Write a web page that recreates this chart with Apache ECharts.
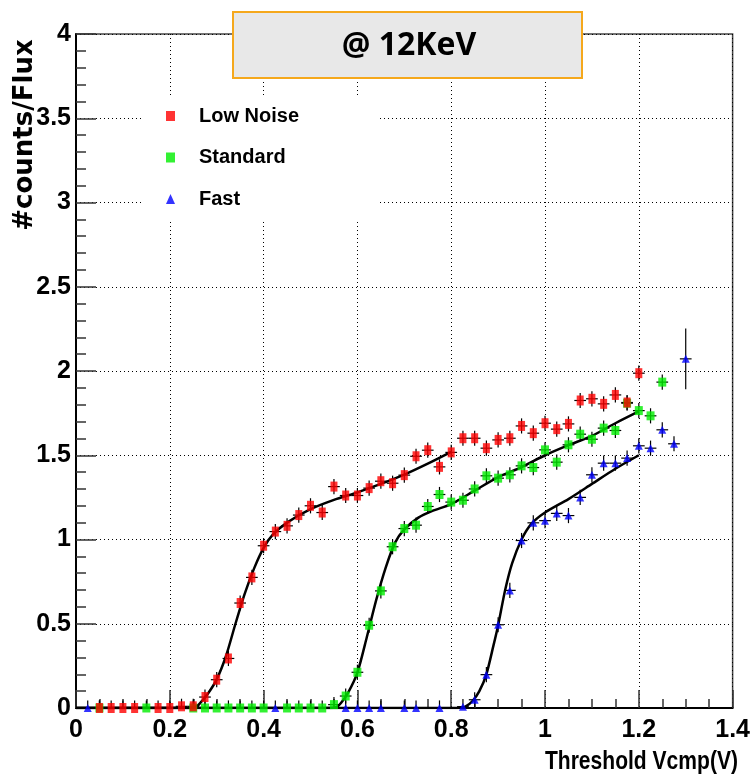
<!DOCTYPE html>
<html>
<head>
<meta charset="utf-8">
<script src="https://cdn.jsdelivr.net/npm/echarts@6/dist/echarts.min.js"></script>
<style>
  html, body { margin: 0; padding: 0; background: #fff; }
  #main { width: 753px; height: 777px; }
</style>
</head>
<body>
<div id="main"></div>
<script>
var chartDom = document.getElementById('main');
var myChart = echarts.init(chartDom);
var option;

const SANS = '"Liberation Sans", Arial, sans-serif';

// measured points: [threshold (V), counts/flux]
const lowNoise = [
  [0.05, 0], [0.075, 0], [0.1, 0], [0.125, 0], [0.175, 0], [0.2, 0], [0.225, 0.01], [0.25, 0.01],
  [0.275, 0.065], [0.3, 0.168], [0.325, 0.294], [0.35, 0.623], [0.375, 0.775], [0.4, 0.963],
  [0.425, 1.047], [0.45, 1.081], [0.475, 1.145], [0.5, 1.2], [0.525, 1.16], [0.55, 1.314],
  [0.575, 1.261], [0.6, 1.261], [0.625, 1.305], [0.65, 1.346], [0.675, 1.334], [0.7, 1.382],
  [0.725, 1.494], [0.75, 1.53], [0.775, 1.431], [0.8, 1.517], [0.825, 1.601], [0.85, 1.601],
  [0.875, 1.542], [0.9, 1.591], [0.925, 1.601], [0.95, 1.674], [0.975, 1.631], [1.0, 1.69],
  [1.025, 1.655], [1.05, 1.686], [1.075, 1.825], [1.1, 1.835], [1.125, 1.805], [1.15, 1.858],
  [1.175, 1.813], [1.2, 1.987]
];
const standard = [
  [0.05, 0], [0.15, 0], [0.25, 0], [0.275, 0], [0.3, 0], [0.325, 0], [0.35, 0], [0.375, 0],
  [0.4, 0], [0.45, 0], [0.475, 0], [0.5, 0], [0.525, 0], [0.55, 0.02], [0.575, 0.071],
  [0.6, 0.212], [0.625, 0.491], [0.65, 0.695], [0.675, 0.957], [0.7, 1.065], [0.725, 1.085],
  [0.75, 1.196], [0.775, 1.267], [0.8, 1.222], [0.825, 1.233], [0.85, 1.3], [0.875, 1.378],
  [0.9, 1.364], [0.925, 1.384], [0.95, 1.437], [0.975, 1.427], [1.0, 1.532], [1.025, 1.459],
  [1.05, 1.562], [1.075, 1.625], [1.1, 1.595], [1.125, 1.661], [1.15, 1.647], [1.175, 1.809],
  [1.2, 1.765], [1.225, 1.734], [1.25, 1.934]
];
const fast = [
  [0.025, 0], [0.425, 0], [0.575, 0], [0.6, 0], [0.625, 0], [0.65, 0], [0.7, 0], [0.725, 0],
  [0.775, 0], [0.825, 0.008], [0.85, 0.049], [0.875, 0.198], [0.9, 0.494], [0.925, 0.698],
  [0.95, 0.994], [0.975, 1.099], [1.0, 1.112], [1.025, 1.155], [1.05, 1.142], [1.075, 1.25],
  [1.1, 1.384], [1.125, 1.453], [1.15, 1.453], [1.175, 1.483], [1.2, 1.556], [1.225, 1.542],
  [1.25, 1.651], [1.275, 1.568], [1.3, 2.072]
];

// fitted curves
const lowNoiseFit = [
  [0, 0], [0.2, 0], [0.24, 0], [0.255, 0.005], [0.265, 0.03], [0.28, 0.08], [0.3, 0.17],
  [0.32, 0.31], [0.34, 0.5], [0.36, 0.68], [0.38, 0.83], [0.4, 0.95], [0.42, 1.03],
  [0.45, 1.1], [0.5, 1.18], [0.55, 1.235], [0.6, 1.28], [0.65, 1.33], [0.7, 1.385],
  [0.75, 1.45], [0.8, 1.52]
];
const standardFit = [
  [0, 0], [0.5, 0], [0.54, 0], [0.555, 0.005], [0.565, 0.03], [0.58, 0.09], [0.6, 0.21],
  [0.62, 0.42], [0.64, 0.64], [0.66, 0.83], [0.68, 0.98], [0.7, 1.06], [0.73, 1.13],
  [0.76, 1.17], [0.8, 1.21], [0.85, 1.29], [0.9, 1.37], [0.95, 1.43], [1.0, 1.5],
  [1.05, 1.56], [1.1, 1.615], [1.15, 1.69], [1.2, 1.76]
];
const fastFit = [
  [0, 0], [0.78, 0], [0.815, 0], [0.83, 0.008], [0.845, 0.04], [0.86, 0.1], [0.875, 0.2],
  [0.89, 0.37], [0.9, 0.49], [0.915, 0.7], [0.93, 0.86], [0.95, 1.0], [0.97, 1.09],
  [1.0, 1.16], [1.05, 1.24], [1.1, 1.33], [1.15, 1.42], [1.2, 1.5]
];

// error bars
const xErr = 0.0125;
const yErr = 0.045;
const fastLastErr = 0.18;

function withErr(points, lastErr) {
  return points.map(function (p, i) {
    var e = (lastErr && i === points.length - 1) ? lastErr : yErr;
    return [p[0], p[1], e];
  });
}

function renderErr(params, api) {
  var x = api.value(0), y = api.value(1), e = api.value(2);
  var l = api.coord([x - xErr, y]);
  var r = api.coord([x + xErr, y]);
  var t = api.coord([x, y + e]);
  var b = api.coord([x, y - e]);
  var st = { stroke: '#000', lineWidth: 1.2 };
  return {
    type: 'group',
    children: [
      { type: 'line', shape: { x1: l[0], y1: l[1], x2: r[0], y2: r[1] }, style: st },
      { type: 'line', shape: { x1: t[0], y1: t[1], x2: b[0], y2: b[1] }, style: st }
    ]
  };
}

function errSeries(points, lastErr) {
  return {
    type: 'custom',
    renderItem: renderErr,
    data: withErr(points, lastErr),
    encode: { x: 0, y: 1 },
    clip: true,
    silent: true,
    z: 3
  };
}

function fitSeries(points) {
  return {
    type: 'line',
    data: points,
    smooth: 0.25,
    showSymbol: false,
    lineStyle: { color: '#000', width: 2.5 },
    silent: true,
    z: 2
  };
}

const tickFont = { fontFamily: SANS, fontWeight: 'bold', fontSize: 25, color: '#000' };
const gridLine = { show: true, lineStyle: { color: '#000', width: 1, type: [1, 3] } };

option = {
  animation: false,
  backgroundColor: '#fff',
  grid: {
    left: 76, right: 12, top: 34, bottom: 69,
    show: true, borderColor: '#444', borderWidth: 1.5
  },
  legend: {
    orient: 'vertical',
    left: 143,
    top: 95,
    backgroundColor: '#fff',
    padding: [10, 78, 10, 23],
    itemWidth: 9,
    itemHeight: 10,
    itemGap: 19.5,
    textStyle: { fontFamily: SANS, fontWeight: 'bold', fontSize: 20, lineHeight: 22, color: '#000', padding: [0, 0, 0, 19] },
    data: [
      { name: 'Low Noise', icon: 'rect' },
      { name: 'Standard', icon: 'rect' },
      { name: 'Fast', icon: 'triangle' }
    ]
  },
  xAxis: {
    type: 'value',
    min: 0, max: 1.4, interval: 0.2,
    axisLine: { onZero: false, lineStyle: { color: '#000', width: 2 } },
    axisTick: { inside: true, length: 18, lineStyle: { color: '#333', width: 1.5 } },
    minorTick: { show: true, splitNumber: 4, length: 9, lineStyle: { color: '#333', width: 1.5 } },
    axisLabel: Object.assign({ margin: 10 }, tickFont),
    splitLine: gridLine
  },
  yAxis: {
    type: 'value',
    min: 0, max: 4, interval: 0.5,
    axisLine: { onZero: false, lineStyle: { color: '#000', width: 2 } },
    axisTick: { inside: true, length: 20, lineStyle: { color: '#333', width: 1.5 } },
    minorTick: { show: true, splitNumber: 5, length: 10, lineStyle: { color: '#333', width: 1.5 } },
    axisLabel: Object.assign({ margin: 5 }, tickFont),
    splitLine: gridLine
  },
  graphic: [
    {
      type: 'rect', z: 100,
      shape: { x: 233, y: 12, width: 349, height: 66 },
      style: { fill: '#e8e8e8', stroke: '#f5a81c', lineWidth: 2 }
    },
    {
      type: 'text', z: 101, x: 409, y: 46,
      style: {
        text: '@ 12KeV', fill: '#000', align: 'center', verticalAlign: 'middle',
        font: 'bold 32px "Open Sans", sans-serif'
      }
    },
    {
      type: 'text', z: 101, x: 25, y: 135, rotation: Math.PI / 2,
      style: {
        text: '#counts/Flux', fill: '#000', align: 'center', verticalAlign: 'middle',
        font: 'bold 26px "DejaVu Sans", sans-serif'
      }
    },
    {
      type: 'text', z: 101, x: 738, y: 762, scaleX: 0.81,
      style: {
        text: 'Threshold Vcmp(V)', fill: '#000', align: 'right', verticalAlign: 'middle',
        font: 'bold 26px ' + SANS
      }
    }
  ],
  series: [
    fitSeries(lowNoiseFit),
    fitSeries(standardFit),
    fitSeries(fastFit),
    errSeries(fast, fastLastErr),
    {
      name: 'Fast', type: 'scatter', data: fast,
      symbol: 'triangle', symbolSize: [8, 8],
      itemStyle: { color: '#0000ff' }, z: 4
    },
    errSeries(standard),
    {
      name: 'Standard', type: 'scatter', data: standard,
      symbol: 'rect', symbolSize: [8, 9],
      itemStyle: { color: '#00ee00' }, z: 4
    },
    errSeries(lowNoise),
    {
      name: 'Low Noise', type: 'scatter', data: lowNoise,
      symbol: 'rect', symbolSize: [7, 10],
      itemStyle: { color: '#ff0000' }, z: 4
    }
  ]
};

option && myChart.setOption(option);
</script>
</body>
</html>
